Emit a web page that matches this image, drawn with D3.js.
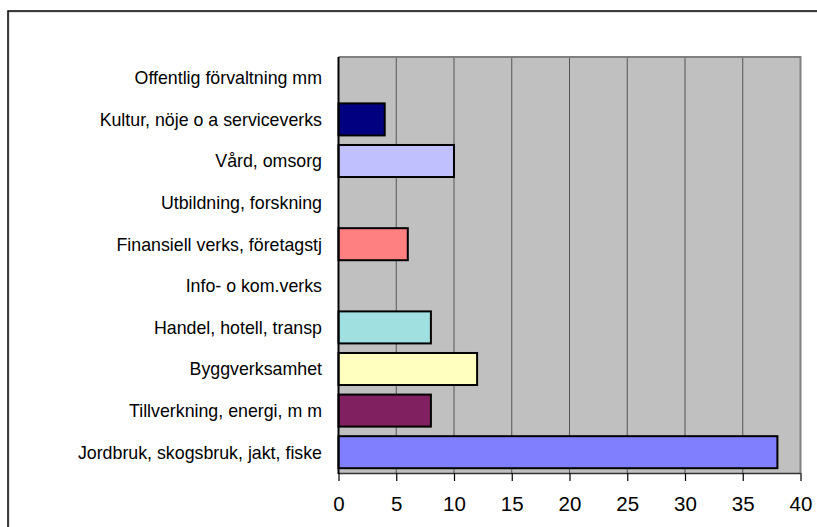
<!DOCTYPE html>
<html>
<head>
<meta charset="utf-8">
<script src="https://cdn.jsdelivr.net/npm/d3@7"></script>
<style>
html,body{margin:0;padding:0;background:#fff;}
svg{display:block;}
</style>
</head>
<body>
<svg id="chart" width="817" height="527"></svg>
<script>
const categories = [
  "Offentlig förvaltning mm",
  "Kultur, nöje o a serviceverks",
  "Vård, omsorg",
  "Utbildning, forskning",
  "Finansiell verks, företagstj",
  "Info- o kom.verks",
  "Handel, hotell, transp",
  "Byggverksamhet",
  "Tillverkning, energi, m m",
  "Jordbruk, skogsbruk, jakt, fiske"
];
const values = [0, 4, 10, 0, 6, 0, 8, 12, 8, 38];
const colors = ["#C0C0FF", "#000080", "#C0C0FF", "#C0C0FF", "#FF8080", "#C0C0FF", "#A0E0E0", "#FFFFC0", "#802060", "#8080FF"];
const xTicks = [0, 5, 10, 15, 20, 25, 30, 35, 40];

const svg = d3.select("#chart");
const L = 338.5, R = 800.5, T = 57, B = 473;

// outer frame
svg.append("rect").attr("x", 9).attr("y", 12).attr("width", 900).attr("height", 600)
  .attr("fill", "none").attr("stroke", "#c8c8c8").attr("stroke-width", 1);
svg.append("rect").attr("x", 8).attr("y", 11).attr("width", 900).attr("height", 600)
  .attr("fill", "none").attr("stroke", "#000").attr("stroke-width", 1.5);

const x = d3.scaleLinear().domain([0, 40]).range([L, R]);
const y = d3.scaleBand().domain(categories).range([T, B]).paddingInner(0.23).paddingOuter(0.115);

// plot background
svg.append("rect").attr("x", L).attr("y", T).attr("width", R - L).attr("height", B - T)
  .attr("fill", "#C0C0C0");

// gridlines
svg.append("g").selectAll("line").data(xTicks.slice(1, -1)).join("line")
  .attr("x1", d => x(d)).attr("x2", d => x(d)).attr("y1", T).attr("y2", B)
  .attr("stroke", "#555").attr("stroke-width", 1);

// plot border top/right
svg.append("path").attr("d", `M${L},${T}H${R}V${B}`).attr("fill", "none")
  .attr("stroke", "#808080").attr("stroke-width", 2);

// bars
svg.append("g").selectAll("rect").data(categories.map((c, i) => ({c, v: values[i], col: colors[i]})).filter(d => d.v > 0))
  .join("rect")
  .attr("x", x(0)).attr("y", d => y(d.c))
  .attr("width", d => x(d.v) - x(0)).attr("height", y.bandwidth())
  .attr("fill", d => d.col).attr("stroke", "#000").attr("stroke-width", 2);

// x axis
const xAxis = d3.axisBottom(x).tickValues(xTicks).tickSize(8).tickPadding(15);
const gx = svg.append("g").attr("transform", `translate(0,${B})`).call(xAxis);
gx.select(".domain").attr("stroke", "#333").attr("stroke-width", 1.5).attr("d", `M${L},0.5H${R}`);
gx.selectAll(".tick line").attr("stroke", "#000").attr("stroke-width", 1.2);
gx.selectAll("text").attr("font-family", "Liberation Sans, Arial, sans-serif")
  .attr("font-size", "20.5px").attr("fill", "#000");

// y axis line
svg.append("line").attr("x1", L).attr("x2", L).attr("y1", T).attr("y2", B + 1)
  .attr("stroke", "#000").attr("stroke-width", 2);

// category labels
svg.append("g").selectAll("text").data(categories).join("text")
  .attr("x", 322).attr("y", d => y(d) + y.bandwidth() / 2)
  .attr("dy", "0.36em").attr("text-anchor", "end")
  .attr("font-family", "Liberation Sans, Arial, sans-serif").attr("font-size", "17.8px")
  .attr("fill", "#000").text(d => d);
</script>
</body>
</html>
